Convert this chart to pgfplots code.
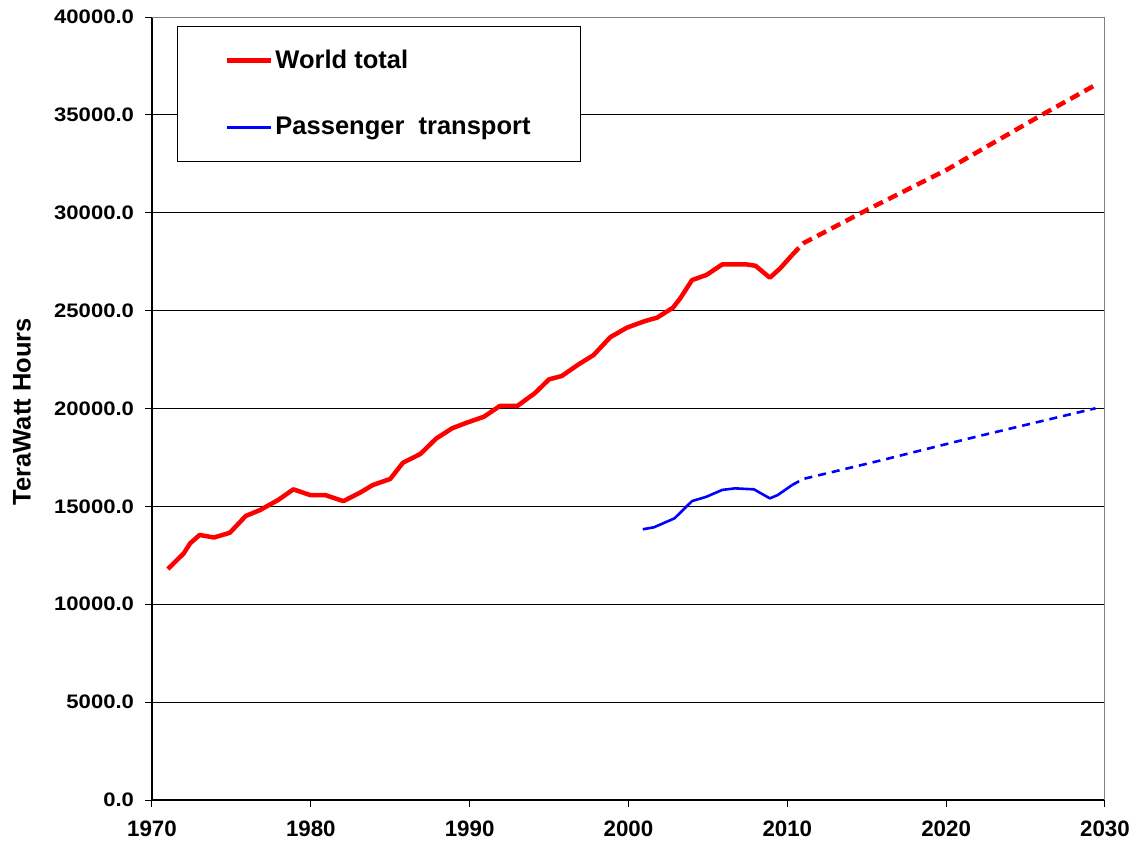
\documentclass[border=0pt]{standalone}
\usepackage{fontspec}
\setmainfont{Liberation Sans}
\newfontfamily\ytickfont[FakeStretch=1.13]{Liberation Sans}
\usepackage{pgfplots}
\pgfplotsset{compat=1.18}

\begin{document}
\begin{tikzpicture}
\begin{axis}[
    name=ax,
    at={(0,0)}, anchor=south west,
    scale only axis,
    width=476.5bp, height=391.5bp,
    xmin=1970, xmax=2030,
    ymin=0, ymax=40000,
    axis x line*=bottom,
    axis y line*=left,
    axis line style={black, line width=0.6bp, -},
    xtick={1970,1980,...,2030},
    ytick={0,5000,...,40000},
    tick align=outside,
    major tick length=3.5bp,
    tick style={black, line width=0.5bp},
    ymajorgrids,
    grid style={black, line width=0.5bp},
    scaled y ticks=false,
    xticklabel style={font=\fontsize{11.2}{13}\selectfont\bfseries,
        anchor=center, yshift=-11bp,
        /pgf/number format/1000 sep={}, /pgf/number format/assume math mode=true},
    yticklabel style={font=\ytickfont\fontsize{9.8}{12}\selectfont\bfseries,
        xshift=-2bp,
        /pgf/number format/fixed, /pgf/number format/fixed zerofill,
        /pgf/number format/precision=1, /pgf/number format/1000 sep={},
        /pgf/number format/assume math mode=true},
    ylabel={TeraWatt Hours},
    every axis y label/.style={at={(axis description cs:-0.1364,0.496)}, rotate=90, anchor=center,
        font=\fontsize{12.8}{15}\selectfont\bfseries},
    legend style={at={(rel axis cs:0.0263,0.9885)}, anchor=north west,
        draw=black, line width=0.5bp,
        font=\fontsize{12.8}{15}\selectfont\bfseries,
        inner xsep=23.5bp, inner ysep=10.5bp, row sep=20.5bp,
        nodes={inner sep=1.2bp}},
    legend cell align=left,
    legend image code/.code={\draw[#1, solid] (0bp,0bp) -- (22bp,0bp);},
]
% World total (historic)
\addplot[red, line width=2.25bp, line join=round] coordinates {
    (1971.0,11800) (1972.0,12600) (1972.4,13110) (1973.0,13540) (1973.9,13410)
    (1974.9,13650) (1975.9,14510) (1976.8,14810) (1977.95,15330) (1978.9,15870)
    (1979.95,15580) (1980.9,15580) (1982.05,15270) (1983.1,15700) (1983.9,16090)
    (1985.0,16400) (1985.8,17230) (1986.9,17680) (1987.9,18470) (1988.9,18990)
    (1989.8,19270) (1990.9,19580) (1991.9,20130) (1993.0,20130) (1994.1,20780)
    (1995.0,21490) (1995.8,21660) (1996.85,22250) (1997.8,22730) (1998.85,23640)
    (1999.9,24130) (2001.05,24470) (2001.8,24640) (2002.8,25150) (2003.25,25620)
    (2004.0,26560) (2004.9,26820) (2005.9,27360) (2007.45,27360) (2008.0,27290)
    (2008.9,26680) (2009.55,27160) (2010.3,27840)
};
\addlegendentry{World total}
% Passenger transport (historic)
\addplot[blue, line width=1.3bp, line join=round] coordinates {
    (2000.9,13830) (2001.6,13930) (2002.9,14390) (2004.0,15270) (2004.9,15490)
    (2005.9,15840) (2006.7,15920) (2007.9,15870) (2008.9,15410) (2009.4,15580)
    (2010.3,16090)
};
\addlegendentry{Passenger\ \ transport}
% projections
\addplot[red, line width=2.25bp, dash pattern=on 5bp off 3bp, forget plot] coordinates {
    (2010.3,27840) (2011.0,28440) (2015.0,30140) (2020.0,32180) (2026.0,34990) (2029.4,36530)
};
\addplot[blue, line width=1.3bp, dash pattern=on 4bp off 3bp, forget plot] coordinates {
    (2010.3,16090) (2011.0,16400) (2016.0,17370) (2018.9,17960) (2022.1,18600) (2029.4,20010)
};
\draw[gray, line width=0.6bp] (rel axis cs:0,1) -- (rel axis cs:1,1) -- (rel axis cs:1,0);
\end{axis}
\pgfresetboundingbox
\path (-76bp,-20.5bp) rectangle (489bp,400bp);
\end{tikzpicture}
\end{document}
